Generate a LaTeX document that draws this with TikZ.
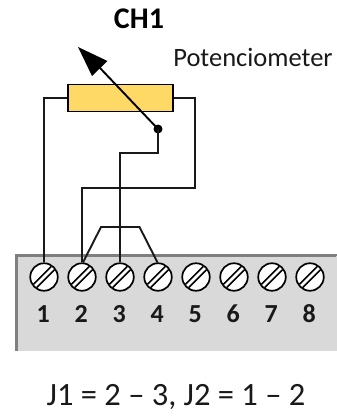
\documentclass[tikz,border=0pt]{standalone}
\usepackage{fontspec}
\setmainfont{Carlito}
\definecolor{panelgray}{HTML}{D9D9D9}
\definecolor{edgegray}{HTML}{7F7F7F}
\definecolor{resyellow}{HTML}{FFD966}
\tikzset{
  wire/.style={draw=black!90,line width=1.9pt},
  screw/.style={circle,draw=black,fill=white,line width=1.7pt,minimum size=27.5pt,inner sep=0pt},
  num/.style={font=\fontsize{26}{26}\selectfont\bfseries,inner sep=0pt,text=black!90,anchor=base},
  res/.style={rectangle,draw=black,fill=resyellow,line width=1.9pt,minimum width=105pt,minimum height=27pt,inner sep=0pt},
  dot/.style={circle,fill=black,minimum size=9pt,inner sep=0pt},
}
\begin{document}
\begin{tikzpicture}[x=1pt,y=-1pt]
\useasboundingbox (0,0) rectangle (337,416);
\fill[panelgray] (15,254.5) rectangle (337,350.5);
\draw[edgegray,line width=3pt] (16,351) -- (16,255.5) -- (337,255.5);
\draw[white!85!black,line width=0.6pt] (336.7,256) -- (336.7,351);
\foreach \i/\x in {1/44,2/82,3/120,4/158,5/196,6/234,7/272,8/310}{
  \node[screw] (s\i) at (\x,277) {};
  \draw[line width=1.5pt] (\x-10.5,277+7.2) -- (\x+7.2,277-10.5);
  \draw[line width=1.5pt] (\x-7.2,277+10.5) -- (\x+10.5,277-7.2);
  \node[num] (n\i) at (\x-0.8,322.5) {\i};
}
\node[res] (r) at (120.5,98) {};
\node[dot] (d) at (158,129) {};
\coordinate (tip) at (78,47);
\draw[wire] (r.west) -- (44,98) -- (s1.north);
\draw[wire] (r.east) -- (195,98) -- (195,188) -- (82,188) -- (s2.north);
\draw[wire] (d.center) -- (158,153) -- (120,153) -- (s3.north);
\draw[wire] (s2.north) ++(1,0) -- (101,227) -- (139.5,227) -- ([xshift=-0.5pt]s4.north);
\draw[line width=1.9pt] (d.center) -- (100,68);
\fill[black] (tip) -- (107.5,61) -- (92,76) -- cycle;
\node[font=\fontsize{30}{30}\selectfont\bfseries,inner sep=0pt] (ch) at (139,19) {CH1};
\node[font=\fontsize{26.5}{26.5}\selectfont,inner sep=0pt,text=black!90] (pot) at (253,57) {Potenciometer};
\node[font=\fontsize{32.5}{32.5}\selectfont,inner sep=0pt,text=black!90] (eq) at (176,397) {J1 = 2 – 3, J2 = 1 – 2};
\end{tikzpicture}
\end{document}
